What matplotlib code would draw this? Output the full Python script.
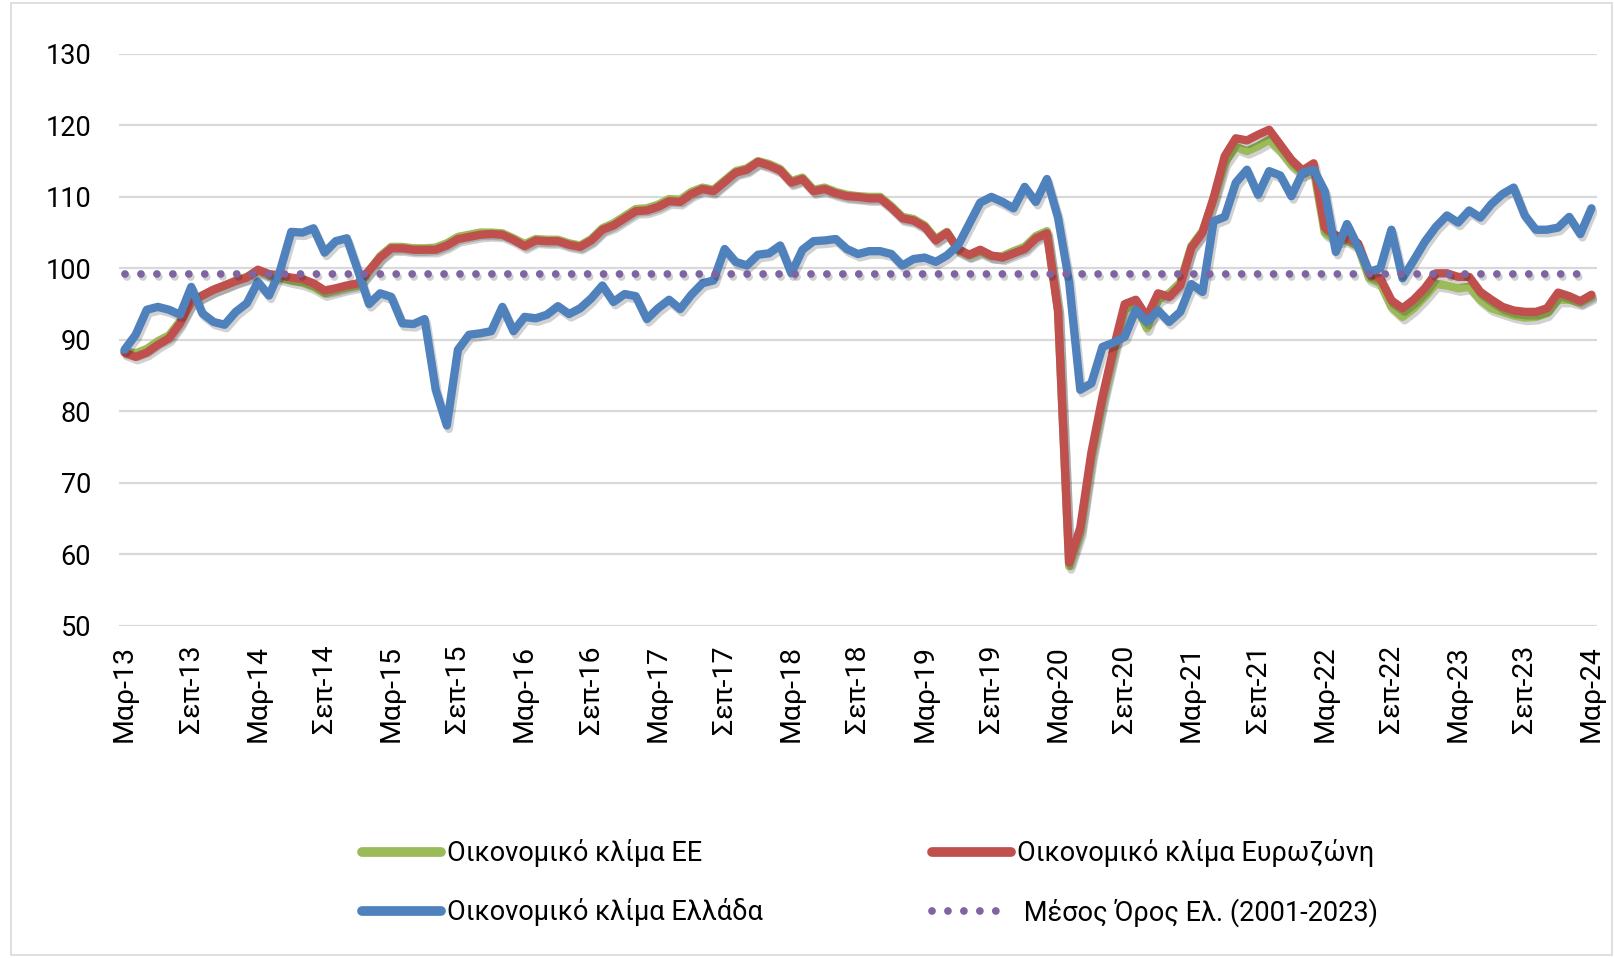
import matplotlib
matplotlib.use("Agg")
import matplotlib.pyplot as plt
import matplotlib.patheffects as pe
from matplotlib import font_manager
from matplotlib.lines import Line2D
from matplotlib.patches import Rectangle

# ---------------- data ----------------
tick_labels = ["Μαρ-13", "Σεπ-13", "Μαρ-14", "Σεπ-14", "Μαρ-15", "Σεπ-15", "Μαρ-16", "Σεπ-16",
               "Μαρ-17", "Σεπ-17", "Μαρ-18", "Σεπ-18", "Μαρ-19", "Σεπ-19", "Μαρ-20", "Σεπ-20",
               "Μαρ-21", "Σεπ-21", "Μαρ-22", "Σεπ-22", "Μαρ-23", "Σεπ-23", "Μαρ-24"]

eu = [88.4, 88.1, 88.7, 89.8, 90.6, 92.6, 95.3, 96.2, 97.0, 97.6,
      98.3, 98.8, 99.7, 99.0, 98.7, 98.3, 98.0, 97.4, 96.5, 96.9,
      97.3, 97.6, 99.6, 101.7, 103.0, 103.0, 102.8, 102.8, 102.9, 103.5,
      104.4, 104.7, 105.0, 105.0, 104.9, 104.2, 103.4, 104.1, 104.0, 104.0,
      103.5, 103.2, 104.1, 105.6, 106.3, 107.3, 108.3, 108.4, 108.9, 109.7,
      109.6, 110.7, 111.3, 111.0, 112.3, 113.6, 114.0, 115.0, 114.6, 113.9,
      112.2, 112.7, 111.0, 111.3, 110.7, 110.3, 110.1, 110.0, 110.0, 108.7,
      107.2, 106.9, 106.0, 104.1, 105.1, 102.6, 101.8, 102.4, 101.7, 101.7,
      102.4, 103.0, 104.5, 105.2, 94.2, 58.3, 63.0, 73.5, 81.4, 88.2,
      94.3, 94.9, 91.6, 95.6, 96.5, 98.0, 103.1, 105.2, 109.6, 114.8,
      117.0, 116.4, 117.1, 118.0, 116.5, 114.5, 113.2, 113.9, 105.0, 103.9,
      104.0, 103.0, 98.6, 97.9, 94.6, 93.2, 94.4, 96.0, 97.8, 97.6,
      97.2, 97.4, 95.6, 94.4, 93.9, 93.4, 93.1, 93.2, 93.7, 95.6,
      95.6, 95.2, 96.0]

eurozone = [88.2, 87.6, 88.2, 89.3, 90.2, 92.3, 95.3, 96.2, 97.0, 97.6,
            98.2, 98.7, 99.8, 99.2, 99.0, 98.7, 98.5, 97.9, 96.9, 97.2,
            97.6, 97.9, 99.7, 101.5, 102.8, 102.8, 102.6, 102.6, 102.6, 103.2,
            104.1, 104.4, 104.7, 104.8, 104.7, 104.0, 103.1, 103.9, 103.8, 103.8,
            103.3, 103.0, 103.9, 105.4, 106.0, 107.0, 108.0, 108.1, 108.6, 109.4,
            109.3, 110.4, 111.1, 110.8, 112.1, 113.4, 113.8, 114.9, 114.4, 113.7,
            112.0, 112.5, 110.8, 111.1, 110.5, 110.1, 110.0, 109.8, 109.8, 108.5,
            107.0, 106.7, 105.8, 103.9, 105.0, 102.7, 101.9, 102.6, 101.8, 101.5,
            102.1, 102.7, 104.2, 104.9, 94.0, 58.8, 63.7, 74.2, 82.0, 88.8,
            95.0, 95.6, 93.2, 96.5, 96.0, 97.6, 102.9, 105.0, 109.9, 115.7,
            118.2, 117.9, 118.7, 119.4, 117.3, 115.2, 113.7, 114.7, 105.7, 104.6,
            104.2, 103.5, 99.2, 98.6, 95.5, 94.4, 95.6, 97.2, 99.3, 99.3,
            98.8, 98.8, 96.7, 95.6, 94.6, 94.1, 93.9, 93.9, 94.4, 96.6,
            96.1, 95.4, 96.3]

greece = [88.6, 90.7, 94.2, 94.6, 94.2, 93.5, 97.4, 93.7, 92.5, 92.1,
          93.9, 95.1, 98.1, 96.2, 99.7, 105.1, 105.0, 105.6, 102.2, 103.8,
          104.2, 99.7, 95.0, 96.5, 96.0, 92.3, 92.2, 92.9, 83.0, 78.0,
          88.6, 90.7, 90.9, 91.2, 94.6, 91.2, 93.2, 93.0, 93.5, 94.7,
          93.6, 94.4, 95.8, 97.6, 95.3, 96.4, 96.1, 92.9, 94.4, 95.6,
          94.3, 96.3, 97.9, 98.3, 102.7, 100.9, 100.4, 101.9, 102.1, 103.2,
          99.3, 102.6, 103.8, 103.9, 104.1, 102.7, 102.0, 102.4, 102.4, 102.0,
          100.4, 101.3, 101.5, 100.9, 101.8, 103.2, 106.2, 109.2, 110.0, 109.3,
          108.4, 111.4, 109.3, 112.5, 107.1, 98.1, 83.0, 83.9, 89.0, 89.6,
          90.4, 94.2, 92.5, 94.1, 92.5, 93.9, 97.8, 96.7, 106.6, 107.2,
          112.0, 113.8, 110.3, 113.6, 113.0, 110.1, 113.4, 113.8, 110.8, 102.3,
          106.2, 103.0, 99.5, 100.0, 105.4, 98.6, 101.1, 103.7, 105.8, 107.4,
          106.4, 108.1, 107.1, 109.0, 110.4, 111.3, 107.4, 105.4, 105.4, 105.7,
          107.2, 104.8, 108.4]

greece_avg = 99.2   # Μέσος Όρος Ελ. (2001-2023)

series_names = ["Οικονομικό κλίμα ΕΕ", "Οικονομικό κλίμα Ευρωζώνη",
                "Οικονομικό κλίμα Ελλάδα", " Μέσος Όρος Ελ. (2001-2023)"]

# ---------------- style ----------------
names = {f.name for f in font_manager.fontManager.ttflist}
main_font = "Roboto" if "Roboto" in names else "DejaVu Sans"
narrow_font = "Liberation Sans Narrow" if "Liberation Sans Narrow" in names else main_font
plt.rcParams["font.family"] = [main_font, "DejaVu Sans"]

c_green = "#9BBB59"
c_red = "#C0504D"
c_blue = "#4F81BD"
c_purple = "#8064A2"

fig = plt.figure(figsize=(16.14, 9.58), dpi=100)
fig.patches.append(Rectangle((11 / 1614, 3 / 958), 1 - 13 / 1614, 1 - 6 / 958,
                             transform=fig.transFigure, fill=False,
                             edgecolor="#D9D9D9", linewidth=1.2))

ax = fig.add_axes([119 / 1614, 1 - 625.5 / 958, (1597 - 119) / 1614, (625.5 - 54) / 958])

x = list(range(len(greece)))
shadow = [pe.SimpleLineShadow(offset=(1.5, -2.5), shadow_color="black", alpha=0.18), pe.Normal()]
lw = 6.0
l_eu, = ax.plot(x, eu, color=c_green, lw=lw, solid_joinstyle="round", solid_capstyle="round",
                path_effects=shadow, zorder=3)
l_ez, = ax.plot(x, eurozone, color=c_red, lw=lw, solid_joinstyle="round", solid_capstyle="round",
                path_effects=shadow, zorder=4)
l_gr, = ax.plot(x, greece, color=c_blue, lw=lw, solid_joinstyle="round", solid_capstyle="round",
                path_effects=shadow, zorder=5)
l_avg, = ax.plot(x, [greece_avg] * len(x), color=c_purple, lw=5.6, dashes=(0.001, 2.05),
                 dash_capstyle="round", path_effects=shadow, zorder=6)

ax.set_xlim(-0.5, len(x) - 0.5)
ax.set_ylim(50, 130)
ax.set_yticks(range(50, 131, 10))
ax.set_xticks(range(0, len(x), 6))
ax.set_xticklabels(tick_labels, rotation=90, fontsize=20.5, family=[narrow_font, "DejaVu Sans"])
ax.tick_params(axis="y", labelsize=19.5, length=0, pad=20)
ax.tick_params(axis="x", length=0, pad=14)
ax.grid(axis="y", color="#D9D9D9", lw=1.6)
ax.set_axisbelow(True)
for s in ax.spines.values():
    s.set_visible(False)

# legend: two columns placed separately
def mk(color, ls="-"):
    if ls == "-":
        return Line2D([], [], color=color, lw=7, solid_capstyle="round")
    return Line2D([], [], color=color, lw=5.6, dashes=(0.001, 2.05), dash_capstyle="round")

leg_kw = dict(frameon=False, fontsize=19.5, handlelength=2.9, handletextpad=0.25,
              labelspacing=1.15, borderpad=0, borderaxespad=0, loc="upper left")
fig.legend([mk(c_green), mk(c_blue)], [series_names[0], series_names[2]],
           bbox_to_anchor=(362 / 1614, 1 - 839 / 958), **leg_kw)
fig.legend([mk(c_red), mk(c_purple, ":")], [series_names[1], series_names[3]],
           bbox_to_anchor=(932 / 1614, 1 - 839 / 958), **leg_kw)

fig.savefig("out.png", dpi=100)
